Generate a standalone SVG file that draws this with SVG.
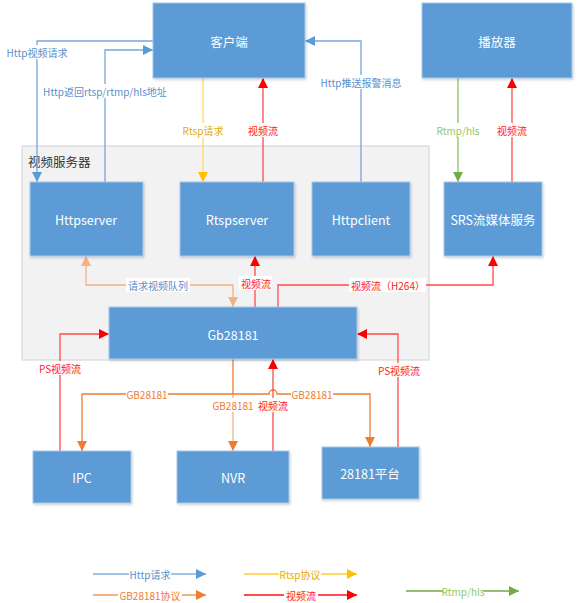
<svg xmlns="http://www.w3.org/2000/svg" width="578" height="603" viewBox="0 0 578 603">
<style>
.box{fill:#5B9BD5;stroke:#A9C8EA;stroke-width:1;filter:url(#sh)}
.bt{font-family:"Noto Sans CJK SC","Liberation Sans",sans-serif;font-size:12.5px;fill:#fff;text-anchor:middle;dominant-baseline:central}
.lb{font-family:"Noto Sans CJK SC","Liberation Sans",sans-serif;font-size:10px;text-anchor:middle;dominant-baseline:central}
.bg{fill:#fff}
.c{fill:none;stroke-width:1.3}
.blue{stroke:#76A7DA}
.yel{stroke:#FFD966}
.red{stroke:#FF4B4B}
.grn{stroke:#8DBF6A}
.org{stroke:#ED7D31}
.pch{stroke:#F4B183}
</style>
<defs>
<filter id="sh" x="-5%" y="-5%" width="115%" height="120%"><feDropShadow dx="1" dy="1.5" stdDeviation="1.2" flood-color="#000" flood-opacity="0.18"/></filter>
<marker id="aB" viewBox="0 0 10 10" refX="10" refY="5" markerWidth="10" markerHeight="10" markerUnits="userSpaceOnUse" orient="auto-start-reverse"><path d="M0,0L10,5L0,10z" fill="#5B9BD5"/></marker>
<marker id="aY" viewBox="0 0 10 10" refX="10" refY="5" markerWidth="10" markerHeight="10" markerUnits="userSpaceOnUse" orient="auto-start-reverse"><path d="M0,0L10,5L0,10z" fill="#FFC000"/></marker>
<marker id="aR" viewBox="0 0 10 10" refX="10" refY="5" markerWidth="10" markerHeight="10" markerUnits="userSpaceOnUse" orient="auto-start-reverse"><path d="M0,0L10,5L0,10z" fill="#FF0000"/></marker>
<marker id="aG" viewBox="0 0 10 10" refX="10" refY="5" markerWidth="10" markerHeight="10" markerUnits="userSpaceOnUse" orient="auto-start-reverse"><path d="M0,0L10,5L0,10z" fill="#70AD47"/></marker>
<marker id="aO" viewBox="0 0 10 10" refX="10" refY="5" markerWidth="10" markerHeight="10" markerUnits="userSpaceOnUse" orient="auto-start-reverse"><path d="M0,0L10,5L0,10z" fill="#ED7D31"/></marker>
<marker id="aP" viewBox="0 0 10 10" refX="10" refY="5" markerWidth="10" markerHeight="10" markerUnits="userSpaceOnUse" orient="auto-start-reverse"><path d="M0,0L10,5L0,10z" fill="#F4B183"/></marker>
</defs>
<rect width="578" height="603" fill="#fff"/>
<g id="video-server-group">
<rect x="22" y="146" width="407" height="214" fill="#F2F2F2" stroke="#D9D9D9" stroke-width="1.2"/>
<text x="28" y="161" font-family="'Noto Sans CJK SC',sans-serif" font-size="12.5" fill="#333" dominant-baseline="central">视频服务器</text>
</g>
<g id="connectors">
<path class="c blue" d="M153,41H37V182" marker-end="url(#aB)"/>
<path class="c blue" d="M105,182V50H153" marker-end="url(#aB)"/>
<path class="c yel" d="M203,78V182" marker-end="url(#aY)"/>
<path class="c red" d="M263,182V78" marker-end="url(#aR)"/>
<path class="c blue" d="M361,182V41H305" marker-end="url(#aB)"/>
<path class="c grn" d="M458,78V182" marker-end="url(#aG)"/>
<path class="c red" d="M512,182V78" marker-end="url(#aR)"/>
<path class="c pch" d="M233,307V285H86V256" marker-start="url(#aP)" marker-end="url(#aP)"/>
<path class="c red" d="M255,307V256" marker-end="url(#aR)"/>
<path class="c red" d="M278,307V285H493V256" marker-end="url(#aR)"/>
<path class="c red" d="M60,451V334H109" marker-end="url(#aR)"/>
<path class="c red" d="M398,447V334H357" marker-end="url(#aR)"/>
<path class="c org" d="M233,359V394"/>
<path class="c pch" d="M233,394V451" marker-end="url(#aO)"/>
<path class="c org" d="M233,394H82V451" marker-end="url(#aO)"/>
<path class="c org" d="M233,394H269A4,4 0 0 1 277,394H370V447" marker-end="url(#aO)"/>
<path class="c red" d="M273,451V359" marker-end="url(#aR)"/>
<g id="labels">
<rect class="bg" x="6" y="45" width="62" height="14"/><text class="lb" x="37" y="52" fill="#5B8FCB">Http视频请求</text>
<rect class="bg" x="46" y="84" width="119" height="14"/><text class="lb" x="105" y="91" fill="#5B8FCB">Http返回rtsp/rtmp/hls地址</text>
<rect class="bg" x="182" y="123" width="42" height="14"/><text class="lb" x="203" y="130" fill="#E6AC00">Rtsp请求</text>
<rect class="bg" x="247" y="123" width="32" height="14"/><text class="lb" x="263" y="130" fill="#FF1A1A">视频流</text>
<rect class="bg" x="319" y="75" width="84" height="14"/><text class="lb" x="361" y="82" fill="#5B8FCB">Http推送报警消息</text>
<rect class="bg" x="438" y="123" width="40" height="14"/><text class="lb" x="458" y="130" fill="#92C85A">Rtmp/hls</text>
<rect class="bg" x="496" y="123" width="32" height="14"/><text class="lb" x="512" y="130" fill="#FF1A1A">视频流</text>
<rect class="bg" x="126" y="278" width="64" height="14"/><text class="lb" x="158" y="285" fill="#5B8FCB">请求视频队列</text>
<rect class="bg" x="239" y="276" width="33" height="14"/><text class="lb" x="256" y="283" fill="#FF1A1A">视频流</text>
<rect class="bg" x="349" y="278" width="77" height="14"/><text class="lb" x="388" y="285" fill="#FF1A1A">视频流（H264）</text>
<rect class="bg" x="39" y="361" width="42" height="14"/><text class="lb" x="60" y="368" fill="#FF1A1A">PS视频流</text>
<rect class="bg" x="378" y="363" width="42" height="14"/><text class="lb" x="399" y="370" fill="#FF1A1A">PS视频流</text>
<rect class="bg" x="126" y="387" width="42" height="14"/><text class="lb" x="147" y="394" fill="#ED7D31">GB28181</text>
<rect class="bg" x="291" y="387" width="42" height="14"/><text class="lb" x="312" y="394" fill="#ED7D31">GB28181</text>
<rect class="bg" x="212" y="398" width="42" height="14"/><text class="lb" x="233" y="405" fill="#ED7D31">GB28181</text>
<rect class="bg" x="257" y="398" width="32" height="14"/><text class="lb" x="273" y="405" fill="#FF1A1A">视频流</text>
</g>
</g>
<g id="legend">
<path d="M93,574H206" stroke="#9DC3E6" stroke-width="2" fill="none" marker-end="url(#aB)"/>
<rect class="bg" x="129" y="567" width="42" height="14"/><text class="lb" x="150" y="574" fill="#5B8FCB">Http请求</text>
<path d="M244,574H357" stroke="#FFD966" stroke-width="2" fill="none" marker-end="url(#aY)"/>
<rect class="bg" x="279" y="567" width="42" height="14"/><text class="lb" x="300" y="574" fill="#E6AC00">Rtsp协议</text>
<path d="M406,591H519" stroke="#70AD47" stroke-width="1.5" fill="none" marker-end="url(#aG)"/>
<rect class="bg" x="443" y="584" width="40" height="14"/><text class="lb" x="463" y="591" fill="#92C85A">Rtmp/hls</text>
<path d="M93,595H206" stroke="#F4B183" stroke-width="2" fill="none" marker-end="url(#aO)"/>
<rect class="bg" x="118" y="588" width="64" height="14"/><text class="lb" x="150" y="595" fill="#ED7D31">GB28181协议</text>
<path d="M244,595H357" stroke="#FF4B4B" stroke-width="2" fill="none" marker-end="url(#aR)"/>
<rect class="bg" x="284" y="588" width="34" height="14"/><text class="lb" x="301" y="595" fill="#FF1A1A">视频流</text>
</g>
<g id="client"><rect class="box" x="153" y="3" width="152" height="75"/><text class="bt" x="229" y="41">客户端</text></g>
<g id="player"><rect class="box" x="422" y="3" width="150" height="75"/><text class="bt" x="497" y="41">播放器</text></g>
<g id="httpserver"><rect class="box" x="30" y="182" width="113" height="74"/><text class="bt" x="86" y="219">Httpserver</text></g>
<g id="rtspserver"><rect class="box" x="180" y="182" width="114" height="74"/><text class="bt" x="237" y="219">Rtspserver</text></g>
<g id="httpclient"><rect class="box" x="312" y="182" width="98" height="74"/><text class="bt" x="361" y="219">Httpclient</text></g>
<g id="srs"><rect class="box" x="444" y="182" width="98" height="74"/><text class="bt" x="493" y="219">SRS流媒体服务</text></g>
<g id="gb28181"><rect class="box" x="109" y="307" width="248" height="52"/><text class="bt" x="233" y="334">Gb28181</text></g>
<g id="ipc"><rect class="box" x="33" y="451" width="98" height="52"/><text class="bt" x="82" y="477">IPC</text></g>
<g id="nvr"><rect class="box" x="177" y="451" width="112" height="52"/><text class="bt" x="233" y="477">NVR</text></g>
<g id="platform"><rect class="box" x="322" y="447" width="97" height="52"/><text class="bt" x="370" y="473">28181平台</text></g>
</svg>
